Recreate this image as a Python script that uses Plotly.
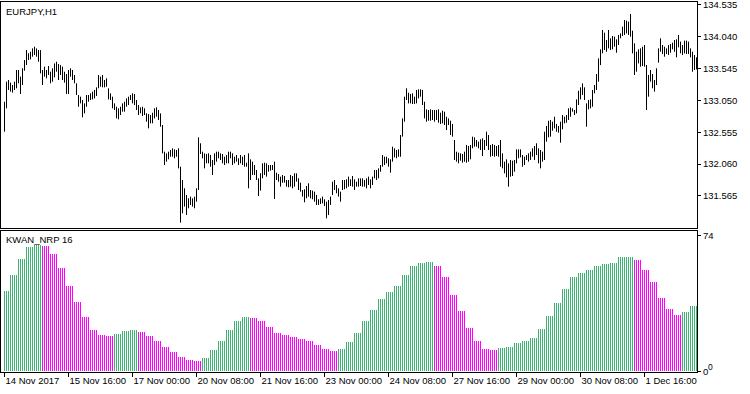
import plotly.graph_objects as go

# ---------------- data ----------------
symbol_label = "EURJPY,H1"
indicator_label = "KWAN_NRP 16"

time_tick_bars = [0, 32, 64, 96, 128, 160, 192, 224, 256, 288, 320]
time_tick_labels = ["14 Nov 2017", "15 Nov 16:00", "17 Nov 00:00", "20 Nov 08:00",
                    "21 Nov 16:00", "23 Nov 00:00", "24 Nov 08:00", "27 Nov 16:00",
                    "29 Nov 00:00", "30 Nov 08:00", "1 Dec 16:00"]
price_ticks = [131.565, 132.060, 132.555, 133.050, 133.545, 134.040, 134.535]
kwan_ticks = [0, 74]
kwan_zero_second_label = "0"

high = [
    133.029, 133.340, 133.366, 133.325, 133.288, 133.340, 133.521, 133.521, 133.418, 133.547,
    133.676, 133.831, 133.780, 133.805, 133.857, 133.883, 133.857, 133.831, 133.831, 133.521,
    133.573, 133.521, 133.583, 133.495, 133.547, 133.624, 133.650, 133.614, 133.598, 133.573,
    133.495, 133.459, 133.521, 133.547, 133.521, 133.444, 133.314, 133.133, 133.107, 133.055,
    133.003, 133.133, 133.133, 133.159, 133.185, 133.211, 133.252, 133.444, 133.418, 133.444,
    133.366, 133.392, 133.237, 133.159, 133.107, 133.003, 132.951, 132.926, 132.951, 133.003,
    133.029, 133.081, 133.107, 133.133, 133.159, 133.149, 133.055, 132.977, 132.941, 132.951,
    132.926, 132.848, 132.838, 132.822, 132.858, 132.926, 132.941, 132.900, 132.848, 132.667,
    132.253, 132.227, 132.253, 132.279, 132.305, 132.289, 132.279, 132.305, 132.020, 131.813,
    131.684, 131.581, 131.529, 131.555, 131.529, 131.555, 131.684, 132.476, 132.383, 132.253,
    132.227, 132.217, 132.227, 132.201, 132.124, 132.227, 132.253, 132.253, 132.227, 132.217,
    132.175, 132.201, 132.253, 132.253, 132.227, 132.175, 132.201, 132.150, 132.201, 132.175,
    132.201, 132.082, 132.227,
    132.134, 132.098, 132.046, 131.968, 131.839, 131.917, 132.072, 132.082, 132.072, 132.046,
    132.046, 132.046, 132.098, 131.927, 131.906, 131.865, 131.891, 131.875, 131.813, 131.813,
    131.891, 131.875, 131.917, 131.917, 131.839, 131.772, 131.658, 131.669, 131.720, 131.762,
    131.658, 131.648, 131.632, 131.581, 131.514, 131.529, 131.555, 131.514, 131.477, 131.503,
    131.555, 131.787, 131.813, 131.736, 131.684, 131.632, 131.813, 131.813, 131.824, 131.865,
    131.824, 131.875, 131.824, 131.787, 131.839, 131.839, 131.839, 131.813, 131.839, 131.865,
    131.824, 131.865, 131.968, 131.968, 131.994, 132.046, 132.201, 132.175, 132.175, 132.150,
    132.134, 132.331, 132.305, 132.279, 132.289, 132.512, 132.770, 133.107, 133.237, 133.169,
    133.149, 133.159, 133.107, 133.211, 133.221, 133.221, 133.211, 133.029, 132.910, 132.900,
    132.910, 132.900, 132.900, 132.900, 132.910, 132.858, 132.889, 132.874, 132.796, 132.770,
    132.734, 132.683, 132.434, 132.253, 132.238, 132.227, 132.217, 132.253, 132.357, 132.341,
    132.357, 132.486, 132.476, 132.434, 132.409, 132.445, 132.460, 132.434, 132.563, 132.512,
    132.357, 132.372, 132.357, 132.341, 132.357,
    132.434, 132.227, 132.098, 132.134, 132.072, 132.124, 132.113, 132.124, 132.289, 132.289,
    132.289, 132.201, 132.175, 132.201, 132.227, 132.253, 132.305, 132.341, 132.383, 132.305,
    132.279, 132.253, 132.563, 132.652, 132.734, 132.745, 132.719, 132.796, 132.683, 132.652,
    132.719, 132.822, 132.796, 132.822, 132.926, 132.941, 132.926, 132.900, 133.065, 133.200,
    133.252, 133.314, 133.252, 133.003, 133.055, 133.065, 133.211, 133.288, 133.459, 133.702,
    133.842, 134.142, 134.101, 133.987, 134.142, 134.013, 134.049, 134.039, 133.997, 134.065,
    134.090, 134.194, 134.297, 134.287, 134.272, 134.391, 134.132, 133.935, 133.805, 133.842,
    133.857, 133.883, 133.909, 133.598, 133.444, 133.521, 133.459, 133.366, 133.547, 133.857,
    134.013, 133.909, 133.883, 133.857, 133.909, 133.925, 133.945, 133.987, 133.997, 134.065,
    133.961, 133.909, 133.977, 133.977, 133.961, 133.857, 133.805, 133.754, 133.718,
]

low = [
    132.563, 132.926, 133.211, 133.185, 133.170, 133.211, 133.237, 133.314, 133.149, 133.288,
    133.511, 133.598, 133.676, 133.686, 133.728, 133.754, 133.728, 133.650, 133.469, 133.288,
    133.418, 133.392, 133.444, 133.314, 133.340, 133.407, 133.495, 133.366, 133.444, 133.366,
    133.325, 133.149, 133.149, 133.418, 133.366, 133.314, 133.133, 132.951, 133.003, 132.786,
    132.848, 132.951, 133.029, 133.055, 133.065, 133.081, 133.118, 133.237, 133.262, 133.252,
    133.252, 133.262, 133.065, 133.055, 132.926, 132.900, 132.770, 132.755, 132.822, 132.874,
    132.874, 132.951, 132.977, 133.055, 133.003, 132.977, 132.900, 132.822, 132.848, 132.806,
    132.822, 132.719, 132.615, 132.693, 132.693, 132.770, 132.796, 132.745, 132.641, 132.227,
    132.046, 132.098, 132.134, 132.175, 132.175, 132.150, 132.175, 131.994, 131.151, 131.296,
    131.400, 131.270, 131.374, 131.426, 131.400, 131.374, 131.477, 131.658, 132.217, 132.150,
    131.994, 132.072, 132.072, 132.020, 131.891, 132.046, 132.098, 132.150, 132.124, 132.072,
    132.046, 132.072, 132.072, 132.150, 132.046, 132.072, 132.098, 132.046, 132.072, 132.046,
    132.020, 132.020, 131.684,
    131.813, 131.891, 131.891, 131.813, 131.565, 131.648, 131.839, 131.891, 131.865, 131.942,
    131.958, 131.968, 131.519, 131.813, 131.787, 131.710, 131.772, 131.772, 131.710, 131.700,
    131.710, 131.684, 131.710, 131.787, 131.658, 131.632, 131.555, 131.467, 131.529, 131.555,
    131.529, 131.514, 131.477, 131.426, 131.426, 131.441, 131.451, 131.410, 131.218, 131.270,
    131.426, 131.581, 131.658, 131.607, 131.555, 131.477, 131.658, 131.669, 131.684, 131.710,
    131.720, 131.710, 131.658, 131.710, 131.710, 131.720, 131.710, 131.710, 131.684, 131.736,
    131.684, 131.736, 131.839, 131.813, 131.839, 131.942, 132.020, 132.046, 132.072, 132.020,
    131.927, 132.098, 132.165, 132.150, 132.175, 132.175, 132.486, 132.719, 133.055, 133.003,
    133.003, 132.993, 132.993, 133.003, 133.081, 133.107, 132.977, 132.770, 132.719, 132.734,
    132.734, 132.745, 132.719, 132.745, 132.703, 132.683, 132.693, 132.667, 132.589, 132.667,
    132.512, 132.486, 132.124, 132.098, 132.072, 132.113, 132.082, 132.098, 132.082, 132.098,
    132.134, 132.305, 132.331, 132.331, 132.305, 132.279, 132.186, 132.279, 132.341, 132.279,
    132.175, 132.186, 132.175, 132.186, 132.175,
    132.020, 131.994, 131.917, 131.855, 131.710, 131.865, 131.875, 131.942, 132.072, 132.150,
    132.165, 132.020, 132.046, 132.124, 132.098, 132.124, 132.175, 132.124, 132.201, 132.072,
    131.994, 132.098, 132.124, 132.409, 132.476, 132.486, 132.579, 132.615, 132.563, 132.548,
    132.393, 132.600, 132.693, 132.703, 132.745, 132.796, 132.874, 132.822, 132.848, 132.977,
    133.065, 133.133, 133.055, 132.641, 132.910, 132.926, 132.951, 133.159, 133.211, 133.340,
    133.598, 133.780, 133.831, 133.805, 133.857, 133.831, 133.842, 133.883, 133.790, 133.909,
    134.013, 134.049, 134.065, 134.090, 134.065, 134.039, 133.780, 133.444, 133.495, 133.624,
    133.573, 133.583, 133.573, 132.900, 133.107, 133.340, 133.237, 133.185, 133.288, 133.635,
    133.805, 133.770, 133.728, 133.770, 133.754, 133.790, 133.842, 133.805, 133.718, 133.873,
    133.780, 133.754, 133.780, 133.770, 133.770, 133.718, 133.495, 133.521, 133.531,
]

kwan = [
    43.6, 43.6, 43.6,
    52.7, 52.7, 52.7, 52.7,   61.4, 61.4, 61.4, 61.4,   67.8, 67.8, 67.8, 67.8,   68.7, 68.7, 68.7, 68.7,
    68.1, 68.1, 68.1, 68.1,   63.8, 63.8, 63.8, 63.8,   56.5, 56.5, 56.5, 56.5,   46.7, 46.7, 46.7, 46.7,
    37.7, 37.7, 37.7, 37.7,   29.3, 29.3, 29.3, 29.3,   22.5, 22.5, 22.5, 22.5,   19.6, 19.6, 19.6, 19.6,
    19.0, 19.0, 19.0, 19.0,   20.1, 20.1, 20.1, 20.1,   21.7, 21.7, 21.7, 21.7,   22.5, 22.5, 22.5, 22.5,
    21.2, 21.2, 21.2, 21.2,   19.2, 19.2, 19.2, 19.2,   16.3, 16.3, 16.3, 16.3,   13.2, 13.2, 13.2, 13.2,
    10.3, 10.3, 10.3, 10.3,   7.6, 7.6, 7.6, 7.6,       6.0, 6.0, 6.0, 6.0,       5.4, 5.4, 5.4, 5.4,
    7.1, 7.1, 7.1, 7.1,       11.4, 11.4, 11.4, 11.4,   16.3, 16.3, 16.3, 16.3,   22.3, 22.3, 22.3, 22.3,
    27.2, 27.2, 27.2, 27.2,   29.3, 29.3, 29.3, 29.3,
    28.8, 28.8, 28.8, 28.8,   27.2, 27.2, 27.2, 27.2,   23.9, 23.9, 23.9, 23.9,   20.7, 20.7, 20.7, 20.7,
    19.6, 19.6, 19.6, 19.6,   18.5, 18.5, 18.5, 18.5,   17.4, 17.4, 17.4, 17.4,   16.3, 16.3, 16.3, 16.3,
    14.1, 14.1, 14.1, 14.1,   12.0, 12.0, 12.0, 12.0,   10.9, 10.9, 10.9, 10.9,
    12.0, 12.0, 12.0, 12.0,   15.8, 15.8, 15.8, 15.8,   20.7, 20.7, 20.7, 20.7,   27.2, 27.2, 27.2, 27.2,
    33.2, 33.2, 33.2, 33.2,   39.1, 39.1, 39.1, 39.1,   43.1, 43.1, 43.1, 43.1,   46.7, 46.7, 46.7, 46.7,
    52.2, 52.2, 52.2, 52.2,   57.1, 57.1, 57.1, 57.1,   59.2, 59.2, 59.2, 59.2,   59.8, 59.8, 59.8, 59.8,
    57.6, 57.6, 57.6, 57.6,   51.6, 51.6, 51.6, 51.6,   41.8, 41.8, 41.8, 41.8,   32.6, 32.6, 32.6, 32.6,
    23.4, 23.4, 23.4, 23.4,   16.3, 16.3, 16.3, 16.3,   12.0, 12.0, 12.0, 12.0,   11.4, 11.4, 11.4, 11.4,
    12.5, 12.5, 12.5, 12.5,   13.0, 13.0, 13.0, 13.0,   15.2, 15.2, 15.2, 15.2,   16.3, 16.3, 16.3, 16.3,
    17.9, 17.9, 17.9, 17.9,   22.8, 22.8, 22.8, 22.8,   29.9, 29.9, 29.9, 29.9,   37.0, 37.0, 37.0, 37.0,
    44.6, 44.6, 44.6, 44.6,   51.1, 51.1, 51.1, 51.1,   53.8, 53.8, 53.8, 53.8,   55.4, 55.4, 55.4, 55.4,
    57.1, 57.1, 57.1, 57.1,   58.7, 58.7, 58.7, 58.7,   59.2, 59.2, 59.2, 59.2,   62.5, 62.5, 62.5, 62.5,
    62.5, 62.5, 62.5, 62.5,
    60.9, 60.9, 60.9, 60.9,   55.4, 55.4, 55.4, 55.4,   48.4, 48.4, 48.4, 48.4,   39.7, 39.7, 39.7, 39.7,
    33.7, 33.7, 33.7, 33.7,   30.4, 30.4, 30.4, 30.4,
    32.1, 32.1, 32.1, 32.1,   35.3, 35.3, 35.3, 35.3,
]

# U = rising (green buffer), D = falling (magenta buffer)
kwan_trend = (
    "UUU" "UUUU" "UUUU" "UUUU" "UUUU"
    "DDDD" "DDDD" "DDDD" "DDDD" "DDDD" "DDDD" "DDDD" "DDDD" "DDDD"
    "UUUU" "UUUU" "UUUU"
    "DDDD" "DDDD" "DDDD" "DDDD" "DDDD" "DDDD" "DDDD" "DDDD"
    "UUUU" "UUUU" "UUUU" "UUUU" "UUUU" "UUUU"
    "DDDD" "DDDD" "DDDD" "DDDD" "DDDD" "DDDD" "DDDD" "DDDD" "DDDD" "DDDD" "DDDD"
    "UUUU" "UUUU" "UUUU" "UUUU" "UUUU" "UUUU" "UUUU" "UUUU" "UUUU" "UUUU" "UUUU" "UUUU"
    "DDDD" "DDDD" "DDDD" "DDDD" "DDDD" "DDDD" "DDDD" "DDDD"
    "UUUU" "UUUU" "UUUU" "UUUU" "UUUU" "UUUU" "UUUU" "UUUU" "UUUU" "UUUU" "UUUU" "UUUU"
    "UUUU" "UUUU" "UUUU" "UUUU" "UUUU"
    "DDDD" "DDDD" "DDDD" "DDDD" "DDDD" "DDDD"
    "UUUU" "UUUU"
)

# ---------------- styling ----------------
UP_COLOR = "#3CB371"
DOWN_COLOR = "#FF00FF"
FONT = dict(family="Liberation Sans, Arial, sans-serif", size=9.5, color="black")

n = len(high)
bars = list(range(n))
kwan_colors = [UP_COLOR if t == "U" else DOWN_COLOR for t in kwan_trend]

# high-low segments for the price bars
seg_x, seg_y = [], []
for i, (h, l) in enumerate(zip(high, low)):
    seg_x += [i, i, None]
    seg_y += [l, h, None]

fig = go.Figure()
fig.add_trace(go.Scatter(
    x=seg_x, y=seg_y, mode="lines",
    line=dict(color="black", width=1),
    xaxis="x", yaxis="y", hoverinfo="skip", connectgaps=False,
))
fig.add_trace(go.Bar(
    x=bars, y=kwan, width=0.44,
    marker=dict(color=kwan_colors, line=dict(width=0)),
    xaxis="x2", yaxis="y2", hoverinfo="skip",
))

x_range = [-1.75, 346.25]
common_axis = dict(showgrid=False, zeroline=False, showline=True, mirror=True,
                   linecolor="black", linewidth=1, tickcolor="black", tickfont=FONT,
                   automargin=False, ticklabeloverflow="allow")

fig.update_layout(
    width=750, height=394,
    margin=dict(l=1, r=53, t=2, b=22, autoexpand=False),
    paper_bgcolor="white", plot_bgcolor="white",
    showlegend=False, bargap=0,
    xaxis=dict(domain=[0, 1], range=x_range, anchor="y", showticklabels=False,
               ticks="", **common_axis),
    yaxis=dict(domain=[0.38919, 1], range=[131.068, 134.577], anchor="x", side="right",
               tickvals=price_ticks, ticktext=[f"{v:.3f}" for v in price_ticks],
               ticks="outside", ticklen=3, **common_axis),
    xaxis2=dict(domain=[0, 1], range=x_range, anchor="y2", matches="x",
                tickvals=time_tick_bars, ticktext=time_tick_labels,
                ticks="outside", ticklen=4, tickangle=0,
                ticklabelposition="outside right", **common_axis),
    yaxis2=dict(domain=[0, 0.38108], range=[-0.44, 76.45], anchor="x2", side="right",
                tickvals=kwan_ticks, ticktext=[str(v) for v in kwan_ticks],
                ticks="outside", ticklen=3, **common_axis),
    annotations=[
        dict(text=symbol_label, xref="paper", yref="paper", x=0.004, y=0.9738,
             xanchor="left", yanchor="middle", showarrow=False, font=FONT),
        dict(text=indicator_label, xref="paper", yref="paper", x=0.004, y=0.3581,
             xanchor="left", yanchor="middle", showarrow=False, font=FONT),
        dict(text=kwan_zero_second_label, xref="paper", yref="paper", x=1.0135, y=0.014,
             xanchor="left", yanchor="middle", showarrow=False,
             font=dict(family=FONT["family"], size=8.5, color="black")),
    ],
)

fig.write_html(
    "out.html",
    config={"displayModeBar": False, "responsive": False},
    post_script="document.body.style.margin='0';document.body.style.overflow='hidden';",
)
